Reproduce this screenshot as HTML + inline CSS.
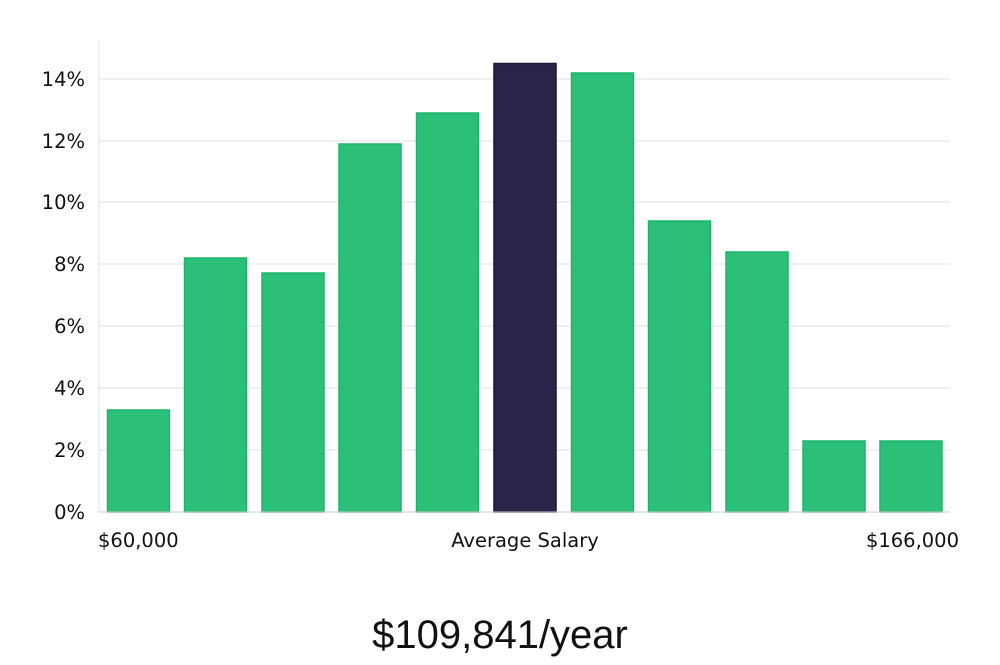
<!DOCTYPE html>
<html><head><meta charset="utf-8"><style>
body{margin:0;background:#fff;}
svg text{font-family:"DejaVu Sans","Liberation Sans",sans-serif;}
</style></head><body>
<svg width="1000" height="660" viewBox="0 0 1000 660" xmlns="http://www.w3.org/2000/svg">
<g stroke="#e0e0e0" stroke-width="1">
<line x1="99" y1="79" x2="950" y2="79"/>
<line x1="99" y1="141" x2="950" y2="141"/>
<line x1="99" y1="202" x2="950" y2="202"/>
<line x1="99" y1="264" x2="950" y2="264"/>
<line x1="99" y1="326" x2="950" y2="326"/>
<line x1="99" y1="388" x2="950" y2="388"/>
<line x1="99" y1="450" x2="950" y2="450"/>
<line x1="99" y1="40" x2="99" y2="512"/>
</g>
<g fill="#2bbf78" stroke="#1db56b" stroke-width="1.5">
<rect x="107.5" y="410" width="62" height="102"/>
<rect x="184.5" y="258" width="62" height="254"/>
<rect x="262" y="273" width="62" height="239"/>
<rect x="339" y="144" width="62" height="368"/>
<rect x="416.5" y="113" width="62" height="399"/>
<rect x="571.5" y="73" width="62" height="439"/>
<rect x="648.5" y="221" width="62" height="291"/>
<rect x="726" y="252" width="62" height="260"/>
<rect x="803" y="441" width="62" height="71"/>
<rect x="880" y="441" width="62" height="71"/>
</g>
<rect x="494" y="63.5" width="62" height="448.5" fill="#2a2449" stroke="#1a1535" stroke-width="1.5"/>
<line x1="99" y1="512" x2="950" y2="512" stroke="#cccccc"/>
<g font-size="19.5" fill="#111" text-anchor="end">
<text x="85" y="86">14%</text>
<text x="85" y="148">12%</text>
<text x="85" y="209">10%</text>
<text x="85" y="271">8%</text>
<text x="85" y="333">6%</text>
<text x="85" y="395">4%</text>
<text x="85" y="457">2%</text>
<text x="85" y="519">0%</text>
</g>
<g font-size="19.5" fill="#111">
<text x="98" y="547">$60,000</text>
<text x="525" y="547" text-anchor="middle">Average Salary</text>
<text x="959" y="547" text-anchor="end">$166,000</text>
</g>
<text x="500" y="648" font-size="40" fill="#111" text-anchor="middle" style="font-family:'Liberation Sans',sans-serif;">$109,841/year</text>
</svg>
</body></html>
